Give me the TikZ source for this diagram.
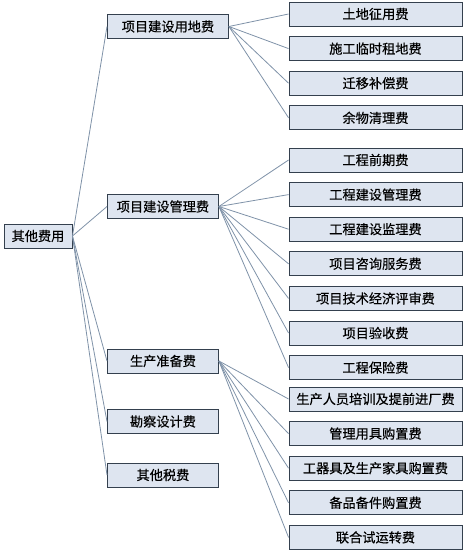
\documentclass[tikz,border=0pt]{standalone}
\usepackage{fontspec}
\setmainfont{Noto Sans CJK SC}[UprightFeatures={FakeBold=0.4}]
\usepackage{tikz}
\usetikzlibrary{positioning}
\definecolor{boxfill}{HTML}{DEE5F0}
\definecolor{boxline}{HTML}{34404E}
\definecolor{linkgray}{HTML}{7F92A8}
\tikzset{
  % boxes
  rootbox/.style={
    rectangle, minimum width=68pt, minimum height=24pt, inner sep=2pt,
    draw=boxline, fill=boxfill, line width=0.9pt,
    font=\fontsize{13.2}{15}\selectfont, align=center,
  },
  catbox/.style={
    rectangle, minimum width=#1, minimum height=24pt, inner sep=2pt,
    draw=boxline, fill=boxfill, line width=0.9pt, anchor=west,
    font=\fontsize{13.2}{15}\selectfont, align=center,
  },
  catbox/.default={111pt},
  leafbox/.style={
    rectangle, minimum width=173pt, minimum height=24pt, inner sep=2pt,
    draw=boxline, fill=boxfill, line width=0.9pt,
    font=\fontsize{13.2}{15}\selectfont, align=center,
  },
  % links
  link/.style={draw=linkgray, line width=0.8pt},
}

\begin{document}
\begin{tikzpicture}[x=1pt, y=-1pt, node distance=9.7pt]
  \useasboundingbox (0,0) rectangle (467,552);

  % root
  \node[rootbox] (root) at (38,236) {其他费用};

  % second level
  \node[catbox=121pt] (land) at (107,26.5) {项目建设用地费};
  \node[catbox] (manage) at (107,206.5) {项目建设管理费};
  \node[catbox] (prep) at (107,361) {生产准备费};
  \node[catbox] (survey) at (107,421.5) {勘察设计费};
  \node[catbox] (tax) at (107,475) {其他税费};

  % land items
  \node[leafbox] (l1) at (375.5,14) {土地征用费};
  \node[leafbox, below=of l1] (l2) {施工临时租地费};
  \node[leafbox, below=of l2] (l3) {迁移补偿费};
  \node[leafbox, below=of l3] (l4) {余物清理费};

  % management items
  \node[leafbox] (m1) at (375.5,160) {工程前期费};
  \node[leafbox, below=of m1] (m2) {工程建设管理费};
  \node[leafbox, below=of m2] (m3) {工程建设监理费};
  \node[leafbox, below=of m3] (m4) {项目咨询服务费};
  \node[leafbox, below=of m4] (m5) {项目技术经济评审费};
  \node[leafbox, below=of m5] (m6) {项目验收费};
  \node[leafbox, below=of m6] (m7) {工程保险费};

  % preparation items
  \node[leafbox] (p1) at (375.5,399) {生产人员培训及提前进厂费};
  \node[leafbox, below=of p1] (p2) {管理用具购置费};
  \node[leafbox, below=of p2] (p3) {工器具及生产家具购置费};
  \node[leafbox, below=of p3] (p4) {备品备件购置费};
  \node[leafbox, below=of p4] (p5) {联合试运转费};

  % links
  \foreach \c in {land,manage,prep,survey,tax}
    \draw[link] (root.east) -- (\c.west);
  \foreach \c in {l1,l2,l3,l4}
    \draw[link] (land.east) -- (\c.west);
  \foreach \c in {m1,m2,m3,m4,m5,m6,m7}
    \draw[link] (manage.east) -- (\c.west);
  \foreach \c in {p1,p2,p3,p4,p5}
    \draw[link] (prep.east) -- (\c.west);

\end{tikzpicture}
\end{document}
